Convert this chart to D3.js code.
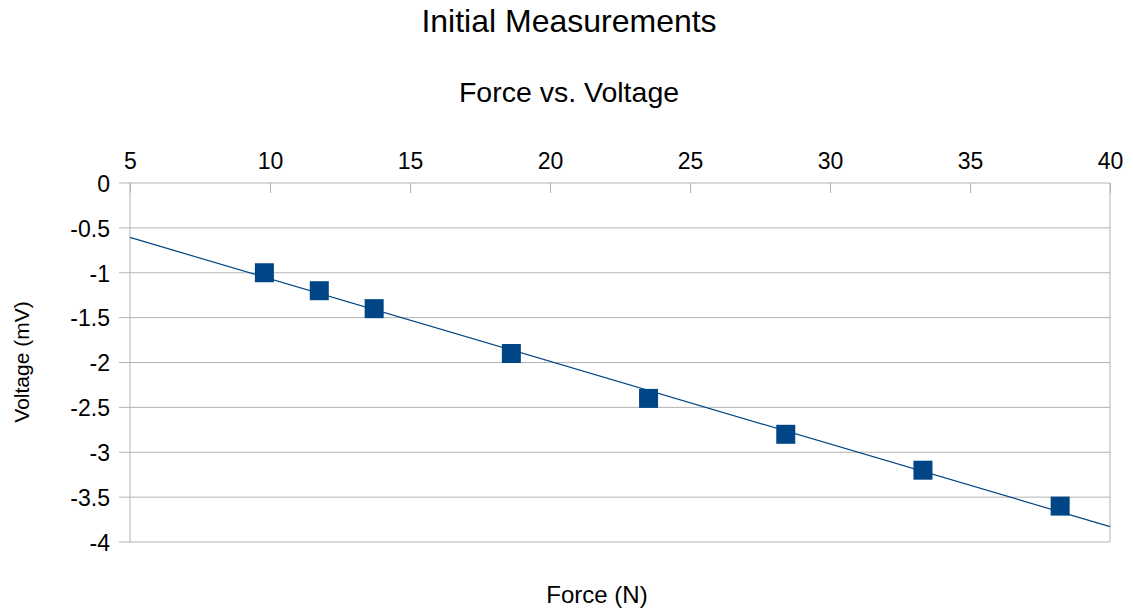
<!DOCTYPE html>
<html>
<head>
<meta charset="utf-8">
<script src="https://cdn.jsdelivr.net/npm/d3@7"></script>
<style>
  body { margin: 0; background: #fff; }
  text { font-family: "Liberation Sans", Arial, sans-serif; fill: #000; }
</style>
</head>
<body>
<div id="chart"></div>
<script>
// data
var force = [9.8, 11.76, 13.72, 18.62, 23.52, 28.42, 33.32, 38.22];
var voltage = [-1, -1.2, -1.4, -1.9, -2.4, -2.8, -3.2, -3.6];
var xTicks = [5, 10, 15, 20, 25, 30, 35, 40];
var yTicks = [0, -0.5, -1, -1.5, -2, -2.5, -3, -3.5, -4];

var width = 1133, height = 611;
var plotL = 130, plotR = 1110, plotT = 183, plotB = 542;

var svg = d3.select("#chart")
  .append("svg")
  .attr("width", width)
  .attr("height", height);

var x = d3.scaleLinear().domain([5, 40]).range([plotL, plotR]);
var y = d3.scaleLinear().domain([0, -4]).range([plotT, plotB]);

// titles
svg.append("text").attr("x", 569).attr("y", 32).attr("text-anchor", "middle")
  .style("font-size", "32px").text("Initial Measurements");
svg.append("text").attr("x", 569).attr("y", 102).attr("text-anchor", "middle")
  .style("font-size", "28.5px").text("Force vs. Voltage");

// horizontal grid
svg.append("g").selectAll("line").data(yTicks).enter().append("line")
  .attr("x1", plotL - 11).attr("x2", plotR)
  .attr("y1", d => y(d)).attr("y2", d => y(d))
  .attr("stroke", "#b3b3b3").attr("stroke-width", 1);

// left + right border
svg.append("line").attr("x1", plotL).attr("x2", plotL).attr("y1", plotT).attr("y2", plotB)
  .attr("stroke", "#b3b3b3");
svg.append("line").attr("x1", plotR).attr("x2", plotR).attr("y1", plotT).attr("y2", plotB)
  .attr("stroke", "#b3b3b3");

// top axis, ticks pointing into the plot
var xAxis = d3.axisTop(x).tickValues(xTicks).tickSizeInner(-10).tickSizeOuter(0)
  .tickPadding(14).tickFormat(d3.format("d"));
var gx = svg.append("g").attr("transform", "translate(0," + plotT + ")").call(xAxis);
gx.select(".domain").remove();
gx.selectAll("line").attr("stroke", "#b3b3b3");
gx.selectAll("text").style("font-size", "23px").attr("font-family", null);

// left axis labels
var yAxis = d3.axisLeft(y).tickValues(yTicks).tickSize(0).tickPadding(20)
  .tickFormat(d => d3.format("")(d).replace("\u2212", "-"));
var gy = svg.append("g").attr("transform", "translate(" + plotL + ",0)").call(yAxis);
gy.select(".domain").remove();
gy.selectAll("text").style("font-size", "23px").attr("font-family", null).attr("dy", "0.36em");

// linear trend line
var mx = d3.mean(force), my = d3.mean(voltage);
var slope = d3.sum(force, (f, i) => (f - mx) * (voltage[i] - my)) / d3.sum(force, f => (f - mx) * (f - mx));
var icpt = my - slope * mx;
svg.append("line")
  .attr("x1", x(5)).attr("y1", y(icpt + slope * 5))
  .attr("x2", x(40)).attr("y2", y(icpt + slope * 40))
  .attr("stroke", "#004586").attr("stroke-width", 1.2);

// points
var s = 19;
svg.append("g").selectAll("rect").data(force).enter().append("rect")
  .attr("x", d => x(d) - s / 2)
  .attr("y", (d, i) => y(voltage[i]) - s / 2)
  .attr("width", s).attr("height", s)
  .attr("fill", "#004586");

// axis titles
svg.append("text").attr("x", 597).attr("y", 603).attr("text-anchor", "middle")
  .style("font-size", "24px").text("Force (N)");
svg.append("text").attr("transform", "translate(29,362) rotate(-90)")
  .attr("text-anchor", "middle").style("font-size", "21px").text("Voltage (mV)");
</script>
</body>
</html>
